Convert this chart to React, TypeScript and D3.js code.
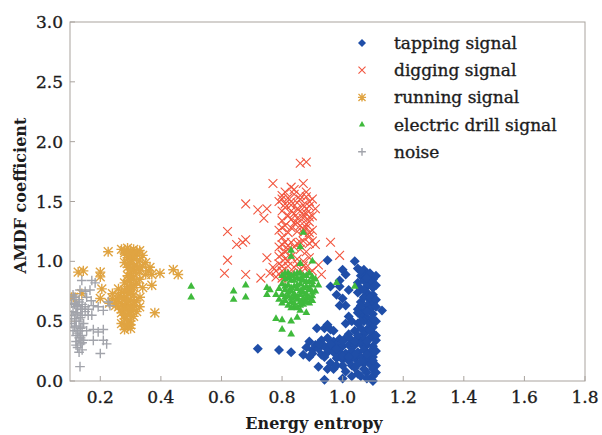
import React from 'react';
import * as d3 from 'd3';

type Pt = [number, number];

// energy entropy, AMDF coefficient
const tapping: Pt[] = [
  [0.72, 0.27], [0.79, 0.26], [0.83, 0.24], [0.87, 0.22], [0.915, 0.44], [0.94, 0.44], [0.97, 0.42],
  [0.92, 0.12], [0.95, 0.1], [0.94, 0.01],
  [0.95, 1.01], [1.04, 1.0], [1.0, 0.93], [1.01, 0.89], [0.99, 0.84], [0.96, 0.79], [0.99, 0.79],
  [1.02, 0.76], [0.98, 0.72], [1.0, 0.69], [0.99, 0.63], [1.01, 0.63], [1.13, 0.59],
  [1.05, 0.94], [1.07, 0.93], [1.08, 0.9], [1.06, 0.88], [1.09, 0.87], [1.1, 0.85], [1.07, 0.84],
  [1.05, 0.82], [1.09, 0.82], [1.08, 0.79], [1.1, 0.78], [1.06, 0.77], [1.05, 0.74], [1.08, 0.74],
  [1.1, 0.72], [1.07, 0.7], [1.09, 0.68], [1.06, 0.66], [1.1, 0.65], [1.08, 0.63], [1.05, 0.6],
  [1.09, 0.6], [1.07, 0.58], [1.1, 0.56], [1.06, 0.55], [1.08, 0.53],
  [1.02, 0.54], [1.01, 0.48], [1.03, 0.5], [1.05, 0.48], [1.07, 0.5], [1.09, 0.48], [1.11, 0.5],
  [1.1, 0.45], [1.08, 0.43], [1.06, 0.44], [1.04, 0.42], [1.1, 0.4], [1.07, 0.39], [0.95, 0.47],
  [0.96, 0.43], [1.02, 0.39],
  [0.89, 0.33], [0.91, 0.3], [0.93, 0.34], [0.95, 0.36], [0.97, 0.33], [0.99, 0.35], [1.01, 0.36],
  [1.03, 0.34], [1.05, 0.36], [1.07, 0.35], [1.09, 0.36], [1.11, 0.34], [0.9, 0.26], [0.92, 0.27],
  [0.94, 0.29], [0.96, 0.28], [0.98, 0.3], [1.0, 0.29], [1.02, 0.3], [1.04, 0.3], [1.06, 0.31],
  [1.08, 0.3], [1.1, 0.29], [0.89, 0.2], [0.93, 0.22], [0.95, 0.24], [0.97, 0.24], [0.99, 0.24],
  [1.01, 0.23], [1.03, 0.25], [1.05, 0.24], [1.07, 0.26], [1.09, 0.24], [1.11, 0.25], [0.98, 0.19],
  [1.0, 0.18], [1.02, 0.17], [1.04, 0.19], [1.06, 0.2], [1.08, 0.19], [1.1, 0.2], [0.96, 0.15],
  [1.03, 0.13], [1.05, 0.14], [1.07, 0.15], [1.09, 0.14], [1.11, 0.13],
  [0.97, 0.1], [1.01, 0.08], [1.05, 0.06], [1.08, 0.07], [1.1, 0.04], [1.08, 0.02], [1.1, 0.0], [1.0, 0.02],
  [1.06, 0.92], [1.09, 0.9], [1.11, 0.88], [1.08, 0.86], [1.11, 0.8], [1.07, 0.76], [1.09, 0.7],
  [1.11, 0.68], [1.06, 0.63], [1.11, 0.62], [1.08, 0.58], [1.05, 0.57], [1.1, 0.52], [1.06, 0.5],
  [1.09, 0.42], [1.05, 0.38], [1.11, 0.38], [1.0, 0.33], [0.96, 0.31], [0.92, 0.31], [0.88, 0.28],
  [0.9, 0.23], [0.94, 0.2], [1.0, 0.21], [1.04, 0.22], [1.08, 0.22], [1.1, 0.17], [1.06, 0.16],
  [1.02, 0.2], [0.98, 0.27], [1.04, 0.33], [1.08, 0.33], [1.1, 0.1], [1.07, 0.1], [1.04, 0.11],
  [1.06, 0.04], [1.11, 0.07], [1.03, 0.04], [0.98, 0.13], [1.0, 0.13],
];

const digging: Pt[] = [
  [0.86, 1.82], [0.88, 1.83], [0.77, 1.65], [0.83, 1.62], [0.87, 1.65], [0.68, 1.48], [0.72, 1.43],
  [0.74, 1.36], [0.75, 1.44], [0.62, 1.25], [0.65, 1.14], [0.67, 1.16], [0.62, 1.01], [0.61, 0.9],
  [0.68, 0.89], [0.68, 1.18], [0.75, 1.03], [0.73, 0.86], [0.96, 1.16], [0.99, 1.05], [0.93, 0.89],
  [0.76, 0.9], [0.78, 0.87],
  [0.8, 1.55], [0.82, 1.53], [0.84, 1.56], [0.86, 1.55], [0.88, 1.54], [0.9, 1.52], [0.79, 1.5],
  [0.81, 1.48], [0.83, 1.47], [0.85, 1.49], [0.87, 1.47], [0.89, 1.46], [0.91, 1.44],
  [0.86, 1.42], [0.88, 1.4], [0.9, 1.38], [0.87, 1.36], [0.89, 1.33], [0.86, 1.3], [0.88, 1.28],
  [0.9, 1.26], [0.87, 1.24], [0.89, 1.21],
  [0.8, 1.42], [0.82, 1.38], [0.8, 1.34], [0.81, 1.3], [0.79, 1.26], [0.82, 1.24], [0.8, 1.2],
  [0.81, 1.16], [0.79, 1.12], [0.82, 1.1], [0.8, 1.06], [0.81, 1.02], [0.79, 0.98], [0.82, 0.96],
  [0.8, 0.92], [0.81, 0.88],
  [0.83, 1.16], [0.85, 1.15], [0.87, 1.17], [0.89, 1.15], [0.91, 1.14], [0.84, 1.12], [0.86, 1.1],
  [0.88, 1.08],
  [0.83, 1.04], [0.85, 1.02], [0.87, 1.0], [0.89, 1.03], [0.84, 0.95], [0.86, 0.93], [0.88, 0.95],
  [0.9, 0.92], [0.92, 0.97], [0.83, 0.9], [0.84, 1.32], [0.84, 1.4], [0.83, 1.28],
  [0.8, 1.52], [0.83, 1.5], [0.86, 1.52], [0.89, 1.5], [0.81, 1.45], [0.85, 1.44], [0.88, 1.44],
  [0.83, 1.42], [0.87, 1.39], [0.85, 1.36], [0.89, 1.37], [0.83, 1.35], [0.85, 1.32], [0.88, 1.31],
  [0.87, 1.27], [0.85, 1.25], [0.89, 1.24], [0.8, 1.28], [0.8, 1.14], [0.82, 1.13], [0.86, 1.16],
  [0.9, 1.17], [0.81, 1.08], [0.79, 1.04], [0.82, 1.0], [0.8, 0.96], [0.85, 0.98], [0.87, 0.96],
  [0.8, 0.86], [0.82, 0.86], [0.89, 0.9], [0.78, 0.92], [0.77, 0.95], [0.84, 1.6], [0.81, 1.58],
  [0.88, 1.58],
];

const running: Pt[] = [
  [0.226, 1.08], [0.127, 0.91], [0.144, 0.92], [0.2, 0.91], [0.2, 0.87], [0.205, 0.77], [0.2, 0.69],
  [0.111, 0.7], [0.139, 0.73], [0.364, 0.95], [0.37, 0.89], [0.37, 0.8], [0.397, 0.9], [0.441, 0.93],
  [0.457, 0.89], [0.331, 0.7], [0.38, 0.57], [0.105, 0.7],
  [0.27, 1.1], [0.29, 1.11], [0.31, 1.1], [0.33, 1.09], [0.28, 1.07], [0.3, 1.06], [0.32, 1.06],
  [0.34, 1.05], [0.29, 1.03], [0.31, 1.02], [0.33, 1.01], [0.28, 0.99], [0.3, 0.98], [0.32, 0.97],
  [0.29, 0.95], [0.31, 0.93], [0.33, 0.92], [0.3, 0.9], [0.29, 0.88], [0.31, 0.86], [0.3, 0.84],
  [0.28, 0.82], [0.32, 0.82], [0.29, 0.79], [0.31, 0.78], [0.3, 0.76], [0.27, 0.74], [0.29, 0.73],
  [0.31, 0.72], [0.26, 0.71], [0.24, 0.69], [0.28, 0.69], [0.3, 0.68], [0.32, 0.67], [0.25, 0.66],
  [0.27, 0.65], [0.29, 0.64], [0.31, 0.63], [0.26, 0.62], [0.28, 0.6], [0.3, 0.59], [0.32, 0.58],
  [0.27, 0.57], [0.29, 0.55], [0.31, 0.54], [0.28, 0.52], [0.3, 0.5], [0.27, 0.48], [0.29, 0.46],
  [0.28, 0.43], [0.3, 0.44], [0.35, 0.99], [0.34, 0.96], [0.36, 0.92], [0.33, 0.85], [0.34, 0.78],
  [0.23, 0.65], [0.24, 0.73], [0.33, 0.62], [0.26, 0.77],
  [0.28, 1.09], [0.3, 1.08], [0.32, 1.08], [0.29, 1.05], [0.31, 1.04], [0.3, 1.01], [0.29, 0.98],
  [0.31, 0.96], [0.3, 0.93], [0.32, 0.9], [0.3, 0.87], [0.29, 0.84], [0.31, 0.8], [0.3, 0.78],
  [0.28, 0.76], [0.3, 0.73], [0.27, 0.7], [0.29, 0.67], [0.31, 0.66], [0.28, 0.63], [0.3, 0.62],
  [0.29, 0.6], [0.31, 0.6], [0.27, 0.6], [0.3, 0.56], [0.28, 0.55], [0.29, 0.5], [0.3, 0.47],
  [0.28, 0.46], [0.26, 0.68], [0.25, 0.63], [0.33, 0.95], [0.35, 0.89],
];

const drill: Pt[] = [
  [0.5, 0.79], [0.5, 0.7], [0.64, 0.75], [0.64, 0.68], [0.68, 0.8], [0.68, 0.7], [0.75, 0.78],
  [0.75, 0.72], [0.78, 0.72], [0.86, 0.59], [0.88, 0.57], [0.78, 0.52], [0.8, 0.51], [0.83, 0.5],
  [0.8, 0.43], [0.83, 0.39], [0.98, 0.82], [1.04, 0.79], [0.87, 1.24], [0.83, 1.09], [0.86, 1.12],
  [0.83, 1.04], [0.86, 0.98], [0.9, 1.0], [0.76, 0.76], [0.85, 0.53], [0.87, 0.64],
  [0.8, 0.88], [0.82, 0.9], [0.84, 0.89], [0.86, 0.9], [0.88, 0.88], [0.9, 0.87], [0.81, 0.85],
  [0.83, 0.84], [0.85, 0.86], [0.87, 0.84], [0.89, 0.83], [0.91, 0.85], [0.8, 0.81], [0.82, 0.8],
  [0.84, 0.79], [0.86, 0.81], [0.88, 0.79], [0.9, 0.8], [0.81, 0.76], [0.83, 0.75], [0.85, 0.77],
  [0.87, 0.74], [0.89, 0.76], [0.91, 0.75], [0.8, 0.72], [0.82, 0.71], [0.84, 0.7], [0.86, 0.72],
  [0.88, 0.7], [0.9, 0.71], [0.81, 0.67], [0.83, 0.66], [0.85, 0.68], [0.87, 0.67], [0.89, 0.65],
  [0.82, 0.63], [0.84, 0.62], [0.86, 0.63], [0.9, 0.67], [0.8, 0.65],
  [0.81, 0.9], [0.83, 0.88], [0.85, 0.9], [0.87, 0.88], [0.89, 0.9], [0.82, 0.86], [0.84, 0.84],
  [0.86, 0.85], [0.88, 0.83], [0.9, 0.83], [0.81, 0.79], [0.83, 0.78], [0.85, 0.8], [0.87, 0.78],
  [0.89, 0.78], [0.82, 0.74], [0.84, 0.73], [0.86, 0.75], [0.88, 0.73], [0.9, 0.74], [0.81, 0.7],
  [0.83, 0.69], [0.85, 0.7], [0.87, 0.69], [0.89, 0.69], [0.84, 0.65], [0.86, 0.66], [0.88, 0.66],
  [0.85, 0.61], [0.83, 0.61], [0.79, 0.77], [0.79, 0.68], [0.92, 0.8],
];

const noise: Pt[] = [
  [0.172, 0.84], [0.133, 0.76], [0.15, 0.75], [0.177, 0.63], [0.193, 0.62], [0.21, 0.59], [0.226, 0.66],
  [0.172, 0.55], [0.177, 0.43], [0.193, 0.41], [0.21, 0.43], [0.177, 0.34], [0.21, 0.34], [0.2, 0.23],
  [0.133, 0.12], [0.221, 0.31], [0.166, 0.76], [0.139, 0.84], [0.232, 0.63], [0.183, 0.82],
  [0.11, 0.72], [0.12, 0.68], [0.13, 0.66], [0.14, 0.64], [0.12, 0.62], [0.135, 0.6], [0.15, 0.62],
  [0.11, 0.58], [0.125, 0.56], [0.14, 0.55], [0.115, 0.52], [0.13, 0.5], [0.145, 0.48], [0.12, 0.46],
  [0.135, 0.44], [0.11, 0.42], [0.125, 0.4], [0.14, 0.38], [0.13, 0.36], [0.145, 0.34], [0.12, 0.33],
  [0.135, 0.31], [0.125, 0.28], [0.14, 0.26], [0.13, 0.24], [0.155, 0.42], [0.16, 0.55], [0.105, 0.65],
  [0.17, 0.67], [0.155, 0.7],
  [0.115, 0.7], [0.13, 0.68], [0.115, 0.64], [0.125, 0.63], [0.14, 0.6], [0.12, 0.57], [0.135, 0.53],
  [0.12, 0.5], [0.14, 0.45], [0.115, 0.45], [0.13, 0.42], [0.12, 0.38], [0.135, 0.36], [0.12, 0.3],
  [0.135, 0.34], [0.14, 0.32], [0.105, 0.55], [0.105, 0.48], [0.16, 0.6], [0.15, 0.58],
];

const xTicks = [0.2, 0.4, 0.6, 0.8, 1.0, 1.2, 1.4, 1.6, 1.8];
const yTicks = [0.0, 0.5, 1.0, 1.5, 2.0, 2.5, 3.0];

const legendNames = ['tapping signal', 'digging signal', 'running signal', 'electric drill signal', 'noise'];

const W = 602;
const H = 435;
const margin = { top: 22, right: 17, bottom: 54, left: 70 };
const font = '"DejaVu Serif", serif';
const ink = '#1c1c1c';

const colors = {
  tapping: '#1f4ea8',
  digging: '#f2563f',
  running: '#e0a442',
  drill: '#3fba3c',
  noise: '#a2a4ab',
};

type Shape = 'diamond' | 'x' | 'star' | 'tri' | 'plus';

const Marker = ({ shape, cx, cy, color, k = 1 }: { shape: Shape; cx: number; cy: number; color: string; k?: number }) => {
  const t = `translate(${cx},${cy})`;
  if (shape === 'diamond') {
    return <path transform={t + ' rotate(45)'} d={d3.symbol(d3.symbolSquare, 50 * k * k)() || ''} fill={color} />;
  }
  if (shape === 'tri') {
    return <path transform={t} d={d3.symbol(d3.symbolTriangle, 26 * k * k)() || ''} fill={color} />;
  }
  const r = 4.4 * k;
  const lines: string[] = [];
  if (shape === 'x' || shape === 'star') lines.push(`M${-r},${-r}L${r},${r}M${-r},${r}L${r},${-r}`);
  if (shape === 'plus' || shape === 'star') {
    const p = shape === 'star' ? r * 1.15 : r * 1.1;
    lines.push(`M${-p},0L${p},0M0,${-p}L0,${p}`);
  }
  return <path transform={t} d={lines.join('')} fill="none" stroke={color} strokeWidth={shape === 'x' ? 1.1 : 1.4} />;
};

export default function App() {
  const x = d3.scaleLinear().domain([0.1, 1.8]).range([margin.left, W - margin.right]);
  const y = d3.scaleLinear().domain([0, 3]).range([H - margin.bottom, margin.top]);

  const series: { name: string; data: Pt[]; shape: Shape; color: string }[] = [
    { name: legendNames[0], data: tapping, shape: 'diamond', color: colors.tapping },
    { name: legendNames[1], data: digging, shape: 'x', color: colors.digging },
    { name: legendNames[2], data: running, shape: 'star', color: colors.running },
    { name: legendNames[3], data: drill, shape: 'tri', color: colors.drill },
    { name: legendNames[4], data: noise, shape: 'plus', color: colors.noise },
  ];

  const x0 = margin.left;
  const x1 = W - margin.right;
  const y0 = H - margin.bottom;
  const y1 = margin.top;
  const frame = '#a9a39e';
  const textStyle = { fontFamily: font, fill: ink, stroke: ink, strokeWidth: 0.35 };

  return (
    <svg width={W} height={H} style={{ position: 'absolute', left: 0, top: 0, background: '#fff' }}>
      <defs>
        <clipPath id="plot">
          <rect x={x0} y={y1 - 6} width={x1 - x0 + 6} height={y0 - y1 + 12} />
        </clipPath>
      </defs>
      <g clipPath="url(#plot)">
        {series.map((s) => (
          <g key={s.name}>
            {s.data.map((d, i) => (
              <Marker key={i} shape={s.shape} cx={x(d[0])} cy={y(d[1])} color={s.color} />
            ))}
          </g>
        ))}
      </g>
      <rect x={x0} y={y1} width={x1 - x0} height={y0 - y1} fill="none" stroke={frame} strokeWidth={1} />
      {xTicks.map((t) => (
        <g key={t}>
          <line x1={x(t)} x2={x(t)} y1={y0} y2={y0 - 5} stroke={frame} />
          <text x={x(t)} y={y0 + 22} textAnchor="middle" fontSize={17} style={textStyle}>
            {t.toFixed(1)}
          </text>
        </g>
      ))}
      {yTicks.map((t) => (
        <g key={t}>
          <line x1={x0} x2={x0 + 5} y1={y(t)} y2={y(t)} stroke={frame} />
          <text x={x0 - 7} y={y(t) + 6} textAnchor="end" fontSize={17} style={textStyle}>
            {t.toFixed(1)}
          </text>
        </g>
      ))}
      <text x={314} y={H - 6} textAnchor="middle" fontSize={16} fontWeight="bold" style={{ fontFamily: font, fill: ink }}>
        Energy entropy
      </text>
      <text
        transform={`translate(26,${(y0 + y1) / 2 - 6}) rotate(-90)`}
        textAnchor="middle"
        fontSize={16}
        fontWeight="bold"
        style={{ fontFamily: font, fill: ink }}
      >
        AMDF coefficient
      </text>
      <g transform="translate(362,43)">
        {series.map((s, i) => (
          <g key={s.name} transform={`translate(0,${i * 27.2})`}>
            <Marker shape={s.shape} cx={0} cy={0} color={s.color} k={0.8} />
            <text x={32} y={6} fontSize={17} style={textStyle}>
              {s.name}
            </text>
          </g>
        ))}
      </g>
    </svg>
  );
}
